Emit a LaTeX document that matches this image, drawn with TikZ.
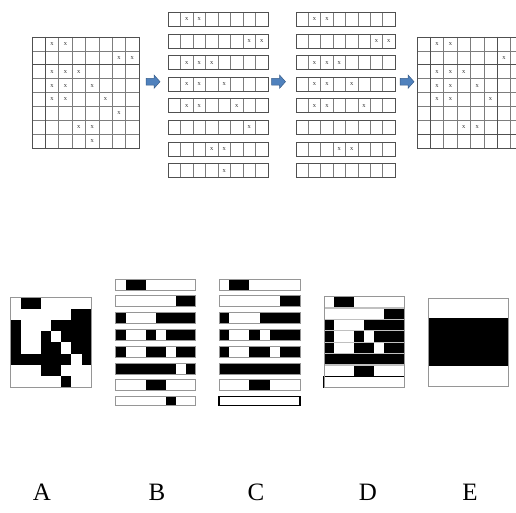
\documentclass[tikz,border=0pt]{standalone}
\usepackage{fontspec}
\setmainfont{Liberation Serif}
\definecolor{arrowblue}{RGB}{79,129,189}
\definecolor{arrowedge}{RGB}{56,93,138}
\definecolor{gridgray}{RGB}{125,125,125}
\definecolor{griddark}{RGB}{80,80,80}
\definecolor{boxgray}{RGB}{150,150,150}
\tikzset{
  gridline/.style={draw=gridgray, line width=0.7pt},
  gridthick/.style={draw=griddark, line width=1.1pt},
  barframe/.style={draw=griddark, line width=0.8pt},
  xmark/.style={font=\fontsize{6.5}{6.5}\selectfont, text=black!80, inner sep=0pt},
  boxframe/.style={draw=boxgray, line width=1pt},
  blkfill/.style={fill=black},
  bigarrow/.style={fill=arrowblue, draw=arrowedge, line width=0.5pt},
  letter/.style={font=\fontsize{25}{25}\selectfont, inner sep=0pt, anchor=base}
}
\begin{document}
\begin{tikzpicture}[x=1pt,y=-1pt]
\useasboundingbox (0,0) rectangle (516,513);
\begin{scope}
\clip (0,0) rectangle (516,513);

% ---------- top grids 1 and 4 ----------
\def\cw{13.375}\def\ch{13.875}
\foreach \gx/\gn in {32/g1,417/g4}{
  \foreach \i in {0,...,8}{
    \draw[gridline] ({\gx+\i*\cw},37) -- ({\gx+\i*\cw},{37+8*\ch});
    \draw[gridline] (\gx,{37+\i*\ch}) -- ({\gx+8*\cw},{37+\i*\ch});
  }
  \draw[gridthick] ({\gx+\cw},37) -- ({\gx+\cw},{37+8*\ch});
  \draw[gridthick] (\gx,{37+2*\ch}) -- ({\gx+8*\cw},{37+2*\ch});
  \draw[barframe] (\gx,37) rectangle ({\gx+8*\cw},{37+8*\ch});
}
\draw[gridthick] (417,{37+7*\ch}) -- ({417+8*\cw},{37+7*\ch});
\draw[gridthick] ({417+6*\cw},37) -- ({417+6*\cw},{37+8*\ch});

\foreach \r/\c in {1/2,1/3,2/7,2/8,3/2,3/3,3/4,4/2,4/3,4/5,5/2,5/3,5/6,6/7,7/4,7/5,8/5}
  \node[xmark] (ga-\r-\c) at ({32+(\c-0.5)*\cw},{37+(\r-0.5)*\ch}) {x};
\foreach \r/\c in {1/2,1/3,2/7,3/2,3/3,3/4,4/2,4/3,4/5,5/2,5/3,5/6,7/4,7/5}
  \node[xmark] (gd-\r-\c) at ({417+(\c-0.5)*\cw},{37+(\r-0.5)*\ch}) {x};

% ---------- bar columns ----------
\foreach \bx/\bw in {168/12.5,296/12.375}{
  \foreach \r in {1,...,8}{
    \pgfmathsetmacro\ty{12.5+21.6*(\r-1)}
    \foreach \i in {1,...,7}
      \draw[gridline] ({\bx+\i*\bw},\ty) -- ({\bx+\i*\bw},{\ty+14});
    \draw[barframe] (\bx,\ty) rectangle ({\bx+8*\bw},{\ty+14});
  }
}
\foreach \r/\c in {1/2,1/3,2/7,2/8,3/2,3/3,3/4,4/2,4/3,4/5,5/2,5/3,5/6,6/7,7/4,7/5,8/5}
  \node[xmark] (b-\r-\c) at ({168+(\c-0.5)*12.5},{12.5+21.6*(\r-1)+7}) {x};
\foreach \r/\c in {1/2,1/3,2/7,2/8,3/2,3/3,3/4,4/2,4/3,4/5,5/2,5/3,5/6,7/4,7/5}
  \node[xmark] (c-\r-\c) at ({296+(\c-0.5)*12.375},{12.5+21.6*(\r-1)+7}) {x};

% ---------- arrows ----------
\foreach \ax in {146,271.5,400}{
  \draw[bigarrow] (\ax,78.3) -- ({\ax+8},78.3) -- ({\ax+8},75) -- ({\ax+14},81.7)
     -- ({\ax+8},88.4) -- ({\ax+8},85.1) -- (\ax,85.1) -- cycle;
}

% ---------- bottom A ----------
\def\aw{10.125}\def\ah{11.2}
\foreach \r/\s/\e in {1/2/3,2/7/8,3/1/1,3/5/8,4/1/1,4/4/4,4/6/8,5/1/1,5/4/5,5/7/8,6/1/6,6/8/8,7/4/5,8/6/6}
  \fill[blkfill] ({10.7+(\s-1)*\aw},{297.5+(\r-1)*\ah}) rectangle ({10.7+\e*\aw},{297.5+\r*\ah});
\draw[boxframe] (10.7,297.5) rectangle (91.7,387.1);

% ---------- bottom B ----------
\foreach \r/\s/\e in {1/2/3,2/7/8,3/1/1,3/5/8,4/1/1,4/4/4,4/6/8,5/1/1,5/4/5,5/7/8,6/1/6,6/8/8,7/4/5,8/6/6}{
  \pgfmathsetmacro\ty{279+16.8*(\r-1)}
  \pgfmathsetmacro\hh{ifthenelse(\r==8,9,11)}
  \fill[blkfill] ({115.7+(\s-1)*10},\ty) rectangle ({115.7+\e*10},{\ty+\hh});
}
\foreach \r in {1,...,8}{
  \pgfmathsetmacro\ty{279+16.8*(\r-1)}
  \pgfmathsetmacro\hh{ifthenelse(\r==8,9,11)}
  \draw[boxframe] (115.7,\ty) rectangle (195.7,{\ty+\hh});
}

% ---------- bottom C ----------
\foreach \r/\s/\e in {1/2/3,2/7/8,3/1/1,3/5/8,4/1/1,4/4/4,4/6/8,5/1/1,5/4/5,5/7/8,6/1/8,7/4/5}{
  \pgfmathsetmacro\ty{279+16.8*(\r-1)}
  \fill[blkfill] ({219+(\s-1)*10.125},\ty) rectangle ({219+\e*10.125},{\ty+11});
}
\foreach \r in {1,...,7}{
  \pgfmathsetmacro\ty{279+16.8*(\r-1)}
  \draw[boxframe] (219,\ty) rectangle (300,{\ty+11});
}
\draw[draw=black, line width=1.4pt] (219,396.6) rectangle (300,405.6);

% ---------- bottom D ----------
\def\dh{11.375}
\foreach \r/\s/\e in {1/2/3,2/7/8,3/1/1,3/5/8,4/1/1,4/4/4,4/6/8,5/1/1,5/4/5,5/7/8,6/1/8,7/4/5}
  \fill[blkfill] ({324+(\s-1)*10.04},{296.7+(\r-1)*\dh}) rectangle ({324+\e*10.04},{296.7+\r*\dh});
\foreach \r in {1,...,7}
  \draw[draw=boxgray!60, line width=1.2pt] (324,{296.7+\r*\dh}) -- (404.3,{296.7+\r*\dh});
\draw[draw=black, line width=1.2pt] (324,{296.7+7*\dh}) rectangle (404.3,{296.7+8*\dh});
\draw[boxframe] (324,296.7) rectangle (404.3,387.7);

% ---------- bottom E ----------
\fill[blkfill] (428.3,318.3) rectangle (508.3,365.7);
\draw[boxframe] (428.3,298.3) rectangle (508.3,386.7);

% ---------- labels ----------
\node[letter] (la) at (42,500) {A};
\node[letter] (lb) at (157,500) {B};
\node[letter] (lc) at (256,500) {C};
\node[letter] (ld) at (368,500) {D};
\node[letter] (le) at (470,500) {E};
\end{scope}
\end{tikzpicture}
\end{document}
